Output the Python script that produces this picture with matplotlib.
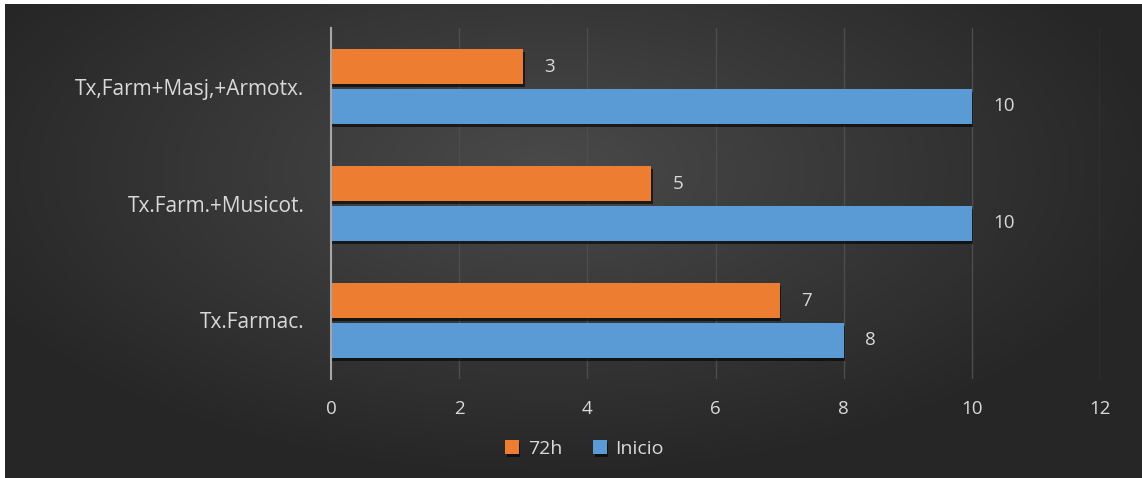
import matplotlib.pyplot as plt
import matplotlib.patheffects as pe
import numpy as np

categories = ['Tx.Farmac.', 'Tx.Farm.+Musicot.', 'Tx,Farm+Masj,+Armotx.']
inicio = [8, 10, 10]
h72 = [7, 5, 3]
xticks = [0, 2, 4, 6, 8, 10, 12]

plt.rcParams['font.family'] = ['Open Sans', 'DejaVu Sans']
txt = '#d9d9d9'

fig = plt.figure(figsize=(11.42, 4.78), dpi=100)
fig.patch.set_facecolor('white')

# dark radial gradient background
bg = fig.add_axes([5 / 1142, 0, 1 - 5 / 1142, 1 - 4 / 478])
yy, xx = np.mgrid[-1:1:200j, -1:1:400j]
r = np.sqrt(((xx + 0.05) / 1.1) ** 2 + ((yy + 0.3) / 1.3) ** 2)
shade = np.clip(0.29 - 0.14 * r, 0.15, 0.3)
bg.imshow(np.dstack([shade] * 3), aspect='auto', extent=[0, 1, 0, 1])
bg.set_axis_off()

ax = fig.add_axes([331 / 1142, 1 - 379 / 478, (1100 - 331) / 1142, (379 - 28) / 478])
ax.patch.set_alpha(0)

y = np.arange(len(categories))
h = 0.3
off = 0.17
shadow = [pe.SimplePatchShadow(offset=(1, -2), shadow_rgbFace='black', alpha=0.6), pe.Normal()]
b1 = ax.barh(y + off, h72, height=h, color='#ED7D31', label='72h', zorder=3, path_effects=shadow)
b2 = ax.barh(y - off, inicio, height=h, color='#5B9BD5', label='Inicio', zorder=3, path_effects=shadow)

for bars, vals in [(b1, h72), (b2, inicio)]:
    for bar, v in zip(bars, vals):
        ax.text(bar.get_width() + 0.33, bar.get_y() + bar.get_height() / 2, str(v),
                color=txt, fontsize=13.5, va='center', ha='left')

ax.set_xlim(0, 12)
ax.set_ylim(-0.5, len(categories) - 0.5)
ax.set_xticks(xticks)
ax.set_yticks(y)
ax.set_yticklabels(categories)
ax.tick_params(axis='x', colors=txt, labelsize=13.5, length=0, pad=15)
ax.tick_params(axis='y', colors=txt, labelsize=15, length=0, pad=19)
ax.grid(axis='x', color='#4d4d4d', linewidth=1, zorder=0)
for s in ['top', 'right', 'bottom']:
    ax.spines[s].set_visible(False)
ax.spines['left'].set_color('#a6a6a6')
ax.spines['left'].set_linewidth(1.5)
ax.spines['left'].set_zorder(4)

fig.legend(handles=[b1, b2], loc='center', bbox_to_anchor=(0.512, 1 - 449 / 478), ncol=2,
           frameon=False, fontsize=14, labelcolor=txt, handlelength=0.7, handleheight=0.7,
           handletextpad=0.45, columnspacing=1.6)

plt.savefig('out.png', dpi=100)
